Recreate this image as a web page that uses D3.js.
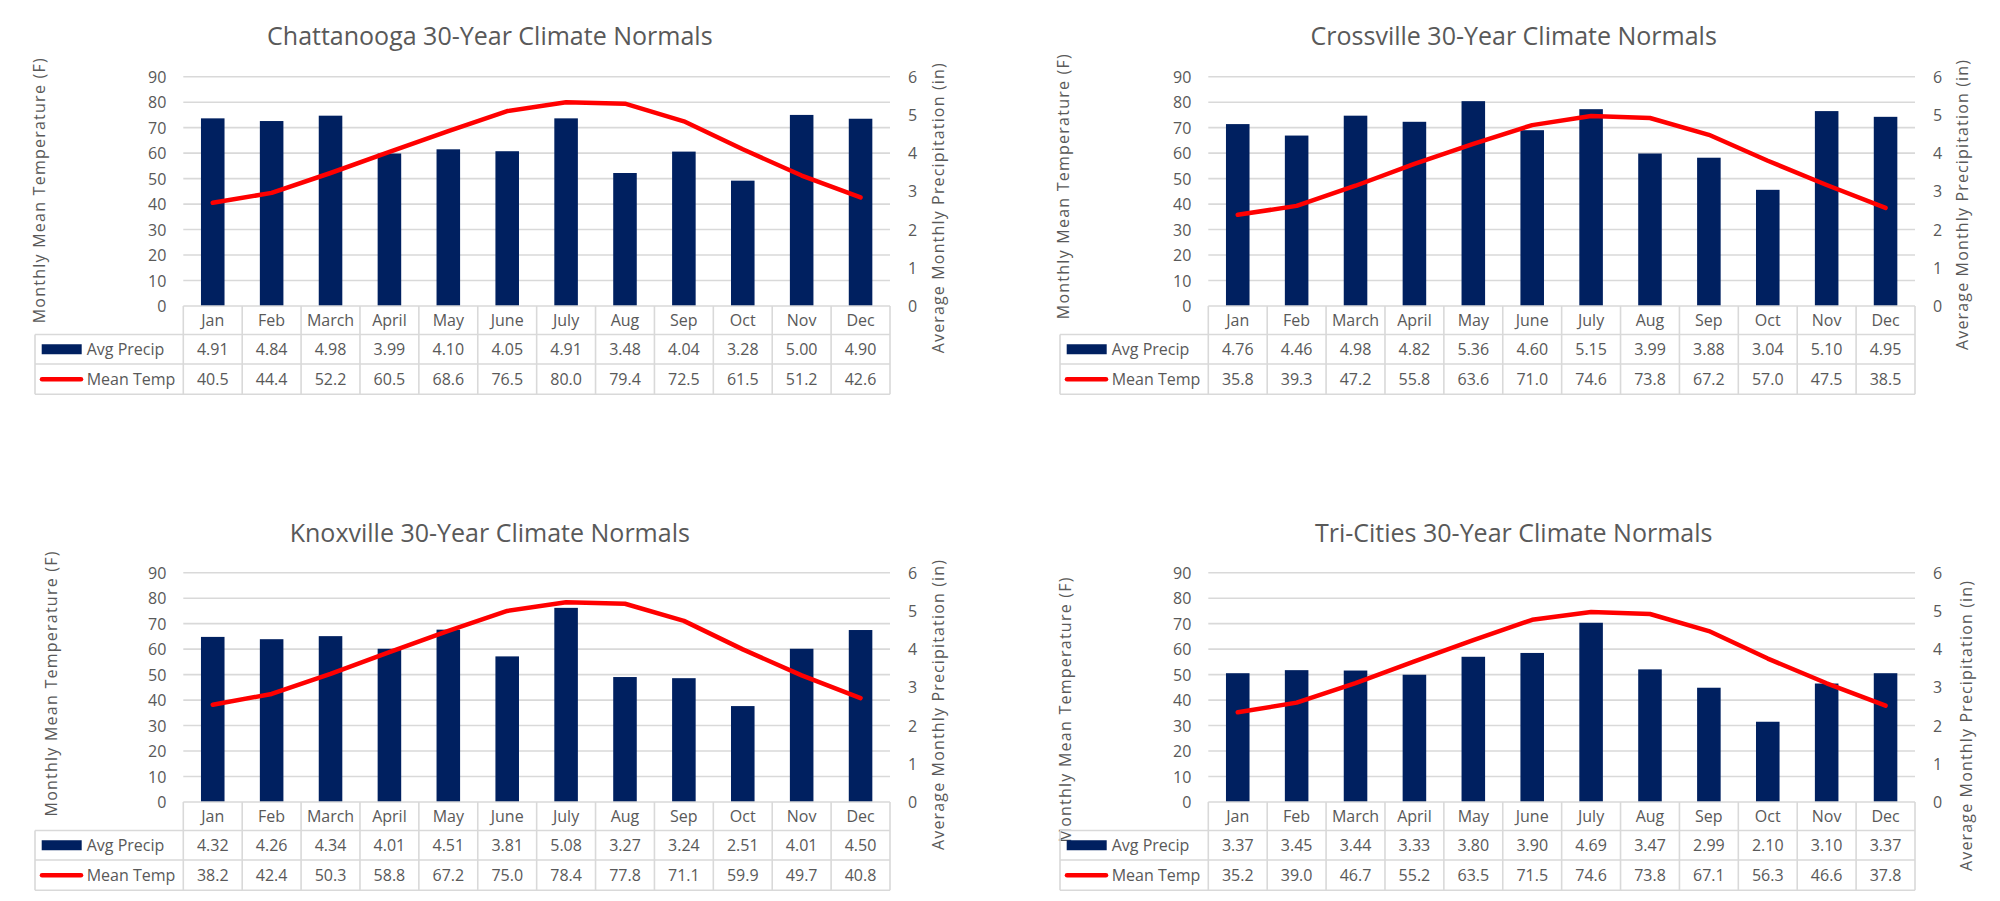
<!DOCTYPE html>
<html>
<head>
<meta charset="utf-8">
<script src="https://cdn.jsdelivr.net/npm/d3@7"></script>
<style>
  html, body { margin: 0; padding: 0; background: #ffffff; }
  svg { display: block; font-family: "Open Sans", "Noto Sans", sans-serif; }
</style>
</head>
<body>
<svg id="chart" width="2000" height="901"></svg>
<script>
// ---------------- DATA ----------------
const months = ["Jan", "Feb", "March", "April", "May", "June", "July", "Aug", "Sep", "Oct", "Nov", "Dec"];
const tempTicks = [0, 10, 20, 30, 40, 50, 60, 70, 80, 90];
const precipTicks = [0, 1, 2, 3, 4, 5, 6];
const seriesNames = ["Avg Precip", "Mean Temp"];

const cityTitles = [
  "Chattanooga 30-Year Climate Normals",
  "Crossville 30-Year Climate Normals",
  "Knoxville 30-Year Climate Normals",
  "Tri-Cities 30-Year Climate Normals"
];

const chattanoogaPrecip = [4.91, 4.84, 4.98, 3.99, 4.10, 4.05, 4.91, 3.48, 4.04, 3.28, 5.00, 4.90];
const chattanoogaTemp   = [40.5, 44.4, 52.2, 60.5, 68.6, 76.5, 80.0, 79.4, 72.5, 61.5, 51.2, 42.6];
const crossvillePrecip  = [4.76, 4.46, 4.98, 4.82, 5.36, 4.60, 5.15, 3.99, 3.88, 3.04, 5.10, 4.95];
const crossvilleTemp    = [35.8, 39.3, 47.2, 55.8, 63.6, 71.0, 74.6, 73.8, 67.2, 57.0, 47.5, 38.5];
const knoxvillePrecip   = [4.32, 4.26, 4.34, 4.01, 4.51, 3.81, 5.08, 3.27, 3.24, 2.51, 4.01, 4.50];
const knoxvilleTemp     = [38.2, 42.4, 50.3, 58.8, 67.2, 75.0, 78.4, 77.8, 71.1, 59.9, 49.7, 40.8];
const triCitiesPrecip   = [3.37, 3.45, 3.44, 3.33, 3.80, 3.90, 4.69, 3.47, 2.99, 2.10, 3.10, 3.37];
const triCitiesTemp     = [35.2, 39.0, 46.7, 55.2, 63.5, 71.5, 74.6, 73.8, 67.1, 56.3, 46.6, 37.8];

const leftAxisTitle = "Monthly Mean Temperature (F)";
const rightAxisTitle = "Average Monthly Precipitation (in)";

// ---------------- LAYOUT / STYLE ----------------
const panels = [
  { title: cityTitles[0], precip: chattanoogaPrecip, temp: chattanoogaTemp,
    plotL: 183.3, plotR: 890, yTop: 76.7, y0: 306, tableL: 35,
    titleX: 489.8, titleY: 35, lTitleX: 39, lTitleY: 190.8, rTitleX: 938, rTitleY: 208.3 },
  { title: cityTitles[1], precip: crossvillePrecip, temp: crossvilleTemp,
    plotL: 1208.3, plotR: 1915, yTop: 76.7, y0: 306, tableL: 1060,
    titleX: 1513.7, titleY: 35, lTitleX: 1063, lTitleY: 186.7, rTitleX: 1961.7, rTitleY: 205 },
  { title: cityTitles[2], precip: knoxvillePrecip, temp: knoxvilleTemp,
    plotL: 183.3, plotR: 890, yTop: 572.7, y0: 802, tableL: 35,
    titleX: 489.8, titleY: 532, lTitleX: 51, lTitleY: 684, rTitleX: 938, rTitleY: 705 },
  { title: cityTitles[3], precip: triCitiesPrecip, temp: triCitiesTemp,
    plotL: 1208.3, plotR: 1915, yTop: 572.7, y0: 802, tableL: 1060,
    titleX: 1513.7, titleY: 532, lTitleX: 1065, lTitleY: 710, rTitleX: 1966, rTitleY: 726 }
];

const BAR_COLOR = "#002060";
const LINE_COLOR = "#FF0000";
const GRID_COLOR = "#D9D9D9";
const TEXT_COLOR = "#595959";
const rowEdges = [0, 28.5, 58, 88.3];

const svg = d3.select("#chart");
svg.append("rect").attr("width", 2000).attr("height", 901).attr("fill", "#fff");

panels.forEach(p => {
  const g = svg.append("g");
  const x = d3.scaleBand().domain(months).range([p.plotL, p.plotR]).paddingInner(0).paddingOuter(0);
  const yT = d3.scaleLinear().domain([0, 90]).range([p.y0, p.yTop]);
  const yP = d3.scaleLinear().domain([0, 6]).range([p.y0, p.yTop]);
  const barW = x.bandwidth() / 2.5;

  // Title
  g.append("text")
    .attr("x", p.titleX).attr("y", p.titleY)
    .attr("text-anchor", "middle").attr("dominant-baseline", "central")
    .attr("fill", TEXT_COLOR).attr("font-size", 25)
    .text(p.title);

  // Gridlines
  g.append("g").selectAll("line").data(tempTicks.filter(t => t > 0)).join("line")
    .attr("x1", p.plotL).attr("x2", p.plotR)
    .attr("y1", d => yT(d)).attr("y2", d => yT(d))
    .attr("stroke", GRID_COLOR).attr("stroke-width", 1.6);

  // Left axis (temperature)
  const la = g.append("g").attr("transform", `translate(${p.plotL},0)`)
    .call(d3.axisLeft(yT).tickValues(tempTicks).tickSize(0).tickPadding(17).tickFormat(d3.format("d")));
  la.select(".domain").remove();
  la.selectAll("text").attr("fill", TEXT_COLOR).attr("font-size", 16)
    .attr("font-family", "Open Sans, sans-serif").attr("dy", "0.35em");

  // Right axis (precip)
  const ra = g.append("g").attr("transform", `translate(${p.plotR},0)`)
    .call(d3.axisRight(yP).tickValues(precipTicks).tickSize(0).tickPadding(18).tickFormat(d3.format("d")));
  ra.select(".domain").remove();
  ra.selectAll("text").attr("fill", TEXT_COLOR).attr("font-size", 16)
    .attr("font-family", "Open Sans, sans-serif").attr("dy", "0.35em");

  // Axis titles
  g.append("text")
    .attr("transform", `translate(${p.lTitleX},${p.lTitleY}) rotate(-90)`)
    .attr("text-anchor", "middle").attr("dominant-baseline", "central")
    .attr("fill", TEXT_COLOR).attr("font-size", 16)
    .attr("textLength", 265).attr("lengthAdjust", "spacing")
    .text(leftAxisTitle);
  g.append("text")
    .attr("transform", `translate(${p.rTitleX},${p.rTitleY}) rotate(-90)`)
    .attr("text-anchor", "middle").attr("dominant-baseline", "central")
    .attr("fill", TEXT_COLOR).attr("font-size", 16)
    .attr("textLength", 290).attr("lengthAdjust", "spacing")
    .text(rightAxisTitle);

  // Bars
  g.append("g").selectAll("rect").data(months).join("rect")
    .attr("x", (m) => x(m) + (x.bandwidth() - barW) / 2)
    .attr("width", barW)
    .attr("y", (m, i) => yP(p.precip[i]))
    .attr("height", (m, i) => yP(0) - yP(p.precip[i]))
    .attr("fill", BAR_COLOR);

  // Line
  const line = d3.line().x((d, i) => x(months[i]) + x.bandwidth() / 2).y(d => yT(d));
  g.append("path").datum(p.temp)
    .attr("d", line).attr("fill", "none")
    .attr("stroke", LINE_COLOR).attr("stroke-width", 4.5)
    .attr("stroke-linejoin", "round").attr("stroke-linecap", "round");

  // Data table
  const tb = g.append("g").attr("stroke", GRID_COLOR).attr("stroke-width", 1.6).attr("fill", "none");
  const yb = rowEdges.map(r => p.y0 + r);
  tb.append("line").attr("x1", p.plotL).attr("x2", p.plotR).attr("y1", yb[0]).attr("y2", yb[0]);
  [1, 2, 3].forEach(k => tb.append("line").attr("x1", p.tableL).attr("x2", p.plotR).attr("y1", yb[k]).attr("y2", yb[k]));
  tb.append("line").attr("x1", p.tableL).attr("x2", p.tableL).attr("y1", yb[1]).attr("y2", yb[3]);
  const vx = months.map(m => x(m)).concat([p.plotR]);
  vx.forEach(vv => tb.append("line").attr("x1", vv).attr("x2", vv).attr("y1", yb[0]).attr("y2", yb[3]));

  const rowMid = k => (yb[k] + yb[k + 1]) / 2;
  const tt = g.append("g").attr("fill", TEXT_COLOR).attr("font-size", 16)
    .attr("text-anchor", "middle").attr("dominant-baseline", "central");
  tt.selectAll("text.cat").data(months).join("text").attr("class", "cat")
    .attr("x", m => x(m) + x.bandwidth() / 2).attr("y", rowMid(0)).text(m => m);
  tt.selectAll("text.pr").data(p.precip).join("text").attr("class", "pr")
    .attr("x", (d, i) => x(months[i]) + x.bandwidth() / 2).attr("y", rowMid(1)).text(d => d3.format(".2f")(d));
  tt.selectAll("text.tm").data(p.temp).join("text").attr("class", "tm")
    .attr("x", (d, i) => x(months[i]) + x.bandwidth() / 2).attr("y", rowMid(2)).text(d => d3.format(".1f")(d));

  // Legend keys
  g.append("rect").attr("x", p.tableL + 6.7).attr("y", rowMid(1) - 5).attr("width", 40).attr("height", 10)
    .attr("fill", BAR_COLOR);
  g.append("line").attr("x1", p.tableL + 7).attr("x2", p.tableL + 46)
    .attr("y1", rowMid(2)).attr("y2", rowMid(2))
    .attr("stroke", LINE_COLOR).attr("stroke-width", 4.5).attr("stroke-linecap", "round");
  g.append("g").attr("fill", TEXT_COLOR).attr("font-size", 16).attr("dominant-baseline", "central")
    .selectAll("text").data(seriesNames).join("text")
    .attr("x", p.tableL + 51.7).attr("y", (d, i) => rowMid(i + 1)).text(d => d);
});
</script>
</body>
</html>
